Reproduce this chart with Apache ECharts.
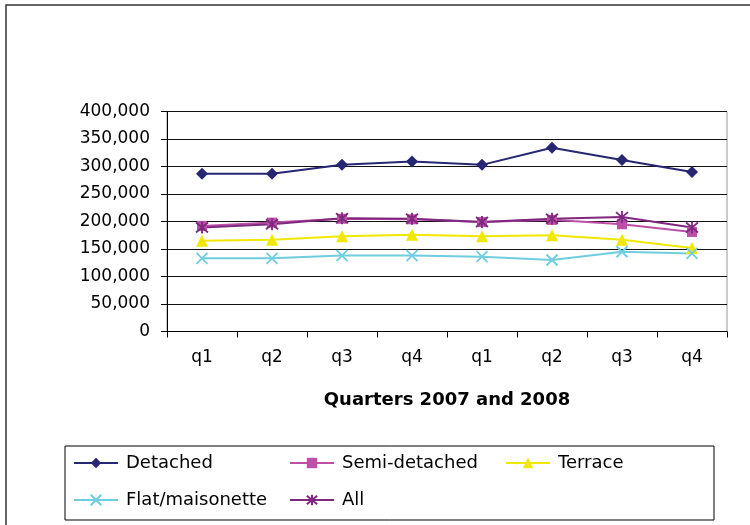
<!DOCTYPE html>
<html>
<head>
<meta charset="utf-8">
<script src="https://cdn.jsdelivr.net/npm/echarts@6/dist/echarts.min.js"></script>
<style>
html,body{margin:0;padding:0;background:#fff;}
#chart{width:750px;height:525px;}
</style>
</head>
<body>
<div id="chart"></div>
<script>
var categories = ['q1','q2','q3','q4','q1','q2','q3','q4'];
var detached = [287000, 287000, 303000, 309000, 303000, 334000, 312000, 290000];
var semiDetached = [192000, 198000, 205000, 204000, 199000, 203000, 195000, 181000];
var terrace = [165000, 167000, 173000, 176000, 173000, 175000, 167000, 152000];
var flat = [133000, 133000, 138000, 138000, 136000, 130000, 145000, 142000];
var all = [189000, 195000, 206000, 205000, 199000, 205000, 208000, 189000];
var xTitle = 'Quarters 2007 and 2008';

var FONT = 'DejaVu Sans';
var xPath = 'path://M0,0L10,10M10,0L0,10';
var starPath = 'path://M0,0L10,10M10,0L0,10M5,-1L5,11';

function fmt(v){ return String(v).replace(/\B(?=(\d{3})+(?!\d))/g, ','); }

var chart = echarts.init(document.getElementById('chart'), null, {renderer:'canvas'});
chart.setOption({
  backgroundColor: '#fff',
  animation: false,
  graphic: [{
    type: 'rect', shape: {x: 6, y: 5, width: 900, height: 700},
    style: {fill: 'none', stroke: '#333', lineWidth: 1.5}, silent: true
  }],
  grid: {left: 167, right: 23, top: 111.5, bottom: 193.5, show: true, borderColor: '#999', borderWidth: 1, backgroundColor: 'transparent'},
  xAxis: {
    type: 'category', data: categories, boundaryGap: true,
    axisLine: {lineStyle: {color: '#000', width: 1}},
    axisTick: {show: true, length: 6, lineStyle: {color: '#000'}},
    axisLabel: {color: '#000', fontFamily: FONT, fontSize: 17, margin: 18},
    name: xTitle, nameLocation: 'middle', nameGap: 60,
    nameTextStyle: {color: '#000', fontFamily: FONT, fontSize: 18, fontWeight: 'bold'}
  },
  yAxis: {
    type: 'value', min: 0, max: 400000, interval: 50000,
    axisLine: {show: true, lineStyle: {color: '#000', width: 1}},
    axisTick: {show: true, length: 6, lineStyle: {color: '#000'}},
    axisLabel: {color: '#000', fontFamily: FONT, fontSize: 17, margin: 17, formatter: fmt},
    splitLine: {show: true, lineStyle: {color: '#111', width: 1}}
  },
  legend: {
    left: 65, top: 446, width: 660, orient: 'horizontal',
    padding: [2, 0, 5, 8], itemGap: 7, itemWidth: 44, itemHeight: 13,
    borderColor: '#000', borderWidth: 1,
    textStyle: {color: '#000', fontFamily: FONT, fontSize: 18, width: 156, lineHeight: 30, padding: [0,0,0,3]},
    data: ['Detached','Semi-detached','Terrace','Flat/maisonette','All']
  },
  series: [
    {name: 'Detached', type: 'line', data: detached, symbol: 'diamond', symbolSize: 12,
     itemStyle: {color: '#262673'}, lineStyle: {color: '#262673', width: 2}},
    {name: 'Semi-detached', type: 'line', data: semiDetached, symbol: 'rect', symbolSize: 10,
     itemStyle: {color: '#BC4FA8'}, lineStyle: {color: '#BC4FA8', width: 2}},
    {name: 'Terrace', type: 'line', data: terrace, symbol: 'triangle', symbolSize: 12,
     itemStyle: {color: '#F0E800'}, lineStyle: {color: '#F0E800', width: 2}},
    {name: 'Flat/maisonette', type: 'line', data: flat, symbol: xPath, symbolSize: 11,
     itemStyle: {color: '#6FCDE0', borderColor: '#6FCDE0', borderWidth: 1.8}, lineStyle: {color: '#6FCDE0', width: 2}},
    {name: 'All', type: 'line', data: all, symbol: starPath, symbolSize: 12,
     itemStyle: {color: '#7E287E', borderColor: '#7E287E', borderWidth: 1.8}, lineStyle: {color: '#7E287E', width: 2}}
  ]
});
</script>
</body>
</html>
